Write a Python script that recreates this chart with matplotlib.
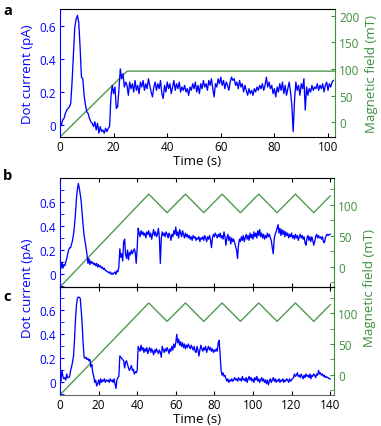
"""Dot current vs. time under a magnetic field sweep (panels a, b, c)."""

import matplotlib

matplotlib.use("Agg")
import matplotlib.pyplot as plt
import numpy as np
from matplotlib.ticker import MultipleLocator

plt.rcParams["font.family"] = ["Open Sans", "DejaVu Sans"]

# ------------------------------------------------------------------ #
# Data (read off the figure), current sampled every 0.5 s
# ------------------------------------------------------------------ #

DT = 0.5

# panel a: current (pA), t = 0 .. 102 s
current_a = [
    0.02, 0.00, 0.03, 0.04, 0.07, 0.09, 0.10, 0.11, 0.13, 0.26,   # 0-4.5
    0.42, 0.59, 0.64, 0.665, 0.62, 0.47, 0.29, 0.28, 0.18, 0.12,  # 5-9.5
    0.08, 0.07, 0.04, 0.02, 0.01, -0.01, 0.02, -0.03, 0.01, -0.05,  # 10-14.5
    -0.01, -0.04, -0.03, -0.05, -0.02, -0.04, -0.02, -0.01, 0.17, 0.24,  # 15-19.5
    0.19, 0.23, 0.10, 0.11, 0.22, 0.34, 0.28, 0.31, 0.23, 0.26,  # 20-24.5
    0.24, 0.18, 0.26, 0.22, 0.25, 0.20, 0.27, 0.21, 0.24, 0.19,  # 25-29.5
    0.26, 0.23, 0.27, 0.21, 0.25, 0.22, 0.28, 0.24, 0.20, 0.17,  # 30-34.5
    0.23, 0.26, 0.21, 0.25, 0.22, 0.27, 0.19, 0.16, 0.24, 0.20,  # 35-39.5
    0.26, 0.22, 0.25, 0.19, 0.23, 0.27, 0.21, 0.25, 0.22, 0.26,  # 40-44.5
    0.20, 0.23, 0.21, 0.24, 0.20, 0.22, 0.18, 0.23, 0.21, 0.25,  # 45-49.5
    0.22, 0.26, 0.20, 0.24, 0.19, 0.25, 0.22, 0.27, 0.23, 0.25,  # 50-54.5
    0.21, 0.27, 0.24, 0.28, 0.22, 0.17, 0.25, 0.23, 0.28, 0.25,  # 55-59.5
    0.29, 0.24, 0.27, 0.22, 0.26, 0.24, 0.21, 0.26, 0.29, 0.27,  # 60-64.5
    0.28, 0.24, 0.26, 0.22, 0.27, 0.23, 0.25, 0.20, 0.24, 0.21,  # 65-69.5
    0.18, 0.22, 0.19, 0.21, 0.18, 0.22, 0.20, 0.23, 0.21, 0.24,  # 70-74.5
    0.22, 0.25, 0.21, 0.24, 0.29, 0.23, 0.26, 0.22, 0.24, 0.19,  # 75-79.5
    0.22, 0.17, 0.23, 0.20, 0.25, 0.21, 0.26, 0.19, 0.24, 0.18,  # 80-84.5
    0.22, 0.26, 0.20, 0.12, -0.04, 0.15, 0.26, 0.21, 0.24, 0.18,  # 85-89.5
    0.25, 0.22, 0.28, 0.09, 0.23, 0.18, 0.22, 0.20, 0.24, 0.21,  # 90-94.5
    0.23, 0.22, 0.25, 0.21, 0.24, 0.22, 0.25, 0.20, 0.24, 0.26,  # 95-99.5
    0.21, 0.25, 0.23, 0.26, 0.27,                                # 100-102
]

# panel b: current (pA), t = 0 .. 140 s
current_b = [
    0.10, 0.05, 0.10, 0.05, 0.08, 0.07, 0.10, 0.13, 0.17, 0.20,  # 0
    0.22, 0.22, 0.25, 0.28, 0.33, 0.40, 0.50, 0.62, 0.70, 0.75,  # 5
    0.71, 0.66, 0.60, 0.50, 0.40, 0.32, 0.27, 0.22, 0.16, 0.09,  # 10
    0.13, 0.08, 0.11, 0.09, 0.10, 0.08, 0.09, 0.07, 0.09, 0.06,  # 15
    0.08, 0.06, 0.07, 0.05, 0.06, 0.04, 0.05, 0.03, 0.03, 0.02,  # 20
    0.02, 0.01, 0.02, 0.00, 0.01, 0.00, 0.01, 0.02, 0.00, 0.03,  # 25
    0.02, 0.06, 0.21, 0.14, 0.17, 0.11, 0.27, 0.29, 0.16, 0.13,  # 30
    0.20, 0.12, 0.18, 0.16, 0.20, 0.17, 0.19, 0.21, 0.18, 0.09,  # 35
    0.22, 0.38, 0.34, 0.31, 0.36, 0.33, 0.35, 0.32, 0.34, 0.30,  # 40
    0.35, 0.33, 0.36, 0.31, 0.34, 0.29, 0.33, 0.37, 0.32, 0.35,  # 45
    0.31, 0.33, 0.38, 0.30, 0.09, 0.30, 0.35, 0.32, 0.34, 0.31,  # 50
    0.35, 0.33, 0.30, 0.34, 0.32, 0.28, 0.33, 0.31, 0.36, 0.33,  # 55
    0.39, 0.32, 0.35, 0.30, 0.37, 0.34, 0.31, 0.36, 0.33, 0.30,  # 60
    0.34, 0.31, 0.33, 0.30, 0.32, 0.29, 0.31, 0.28, 0.32, 0.30,  # 65
    0.31, 0.28, 0.30, 0.29, 0.31, 0.27, 0.30, 0.29, 0.31, 0.28,  # 70
    0.32, 0.30, 0.27, 0.31, 0.29, 0.32, 0.28, 0.22, 0.30, 0.33,  # 75
    0.31, 0.34, 0.32, 0.30, 0.33, 0.31, 0.34, 0.30, 0.32, 0.29,  # 80
    0.35, 0.31, 0.24, 0.30, 0.33, 0.28, 0.31, 0.25, 0.30, 0.27,  # 85
    0.29, 0.26, 0.23, 0.20, 0.13, 0.24, 0.29, 0.27, 0.31, 0.28,  # 90
    0.32, 0.27, 0.30, 0.33, 0.29, 0.32, 0.28, 0.34, 0.30, 0.33,  # 95
    0.29, 0.35, 0.31, 0.34, 0.30, 0.36, 0.32, 0.37, 0.31, 0.34,  # 100
    0.30, 0.33, 0.29, 0.32, 0.30, 0.34, 0.31, 0.33, 0.30, 0.28,  # 105
    0.22, 0.17, 0.29, 0.33, 0.35, 0.38, 0.41, 0.34, 0.38, 0.32,  # 110
    0.37, 0.33, 0.36, 0.31, 0.35, 0.32, 0.34, 0.30, 0.33, 0.31,  # 115
    0.34, 0.30, 0.32, 0.29, 0.33, 0.30, 0.32, 0.28, 0.31, 0.33,  # 120
    0.30, 0.32, 0.29, 0.31, 0.26, 0.24, 0.30, 0.32, 0.28, 0.31,  # 125
    0.27, 0.31, 0.28, 0.24, 0.27, 0.31, 0.33, 0.30, 0.32, 0.30,  # 130
    0.31, 0.29, 0.31, 0.27, 0.26, 0.30, 0.32, 0.33, 0.32, 0.33,  # 135
    0.33,                                                        # 140
]

# panel c: current (pA), t = 0 .. 140 s
current_c = [
    0.05, 0.01, 0.10, 0.05, 0.03, 0.04, 0.02, 0.07, 0.04, 0.04,  # 0
    0.05, 0.10, 0.13, 0.17, 0.22, 0.35, 0.52, 0.64, 0.70, 0.71,  # 5
    0.71, 0.70, 0.60, 0.48, 0.32, 0.21, 0.20, 0.21, 0.19, 0.20,  # 10
    0.18, 0.19, 0.13, 0.15, 0.08, 0.05, 0.00, 0.02, -0.03, -0.01,  # 15
    0.02, -0.02, 0.03, 0.00, 0.02, 0.01, 0.03, 0.00, 0.02, 0.01,  # 20
    0.02, 0.00, 0.03, 0.01, 0.02, 0.00, 0.03, -0.01, -0.05, 0.02,  # 25
    0.04, 0.05, 0.22, 0.21, 0.20, 0.19, 0.18, 0.12, 0.17, 0.18,  # 30
    0.15, 0.12, 0.10, 0.12, 0.14, 0.10, 0.11, 0.07, 0.09, 0.08,  # 35
    0.10, 0.30, 0.28, 0.26, 0.31, 0.27, 0.29, 0.25, 0.28, 0.26,  # 40
    0.29, 0.24, 0.27, 0.29, 0.25, 0.28, 0.26, 0.23, 0.27, 0.25,  # 45
    0.28, 0.26, 0.24, 0.27, 0.25, 0.21, 0.30, 0.27, 0.25, 0.28,  # 50
    0.26, 0.29, 0.27, 0.24, 0.28, 0.26, 0.30, 0.27, 0.32, 0.29,  # 55
    0.33, 0.40, 0.33, 0.36, 0.31, 0.34, 0.30, 0.33, 0.29, 0.32,  # 60
    0.28, 0.31, 0.29, 0.32, 0.30, 0.28, 0.31, 0.29, 0.27, 0.30,  # 65
    0.26, 0.25, 0.30, 0.27, 0.22, 0.27, 0.31, 0.28, 0.26, 0.29,  # 70
    0.27, 0.30, 0.25, 0.28, 0.30, 0.27, 0.29, 0.26, 0.28, 0.25,  # 75
    0.27, 0.26, 0.28, 0.26, 0.33, 0.35, 0.23, 0.10, 0.06, 0.08,  # 80
    0.05, 0.06, 0.03, 0.01, 0.03, 0.00, 0.02, 0.01, 0.03, 0.01,  # 85
    0.02, 0.04, 0.02, 0.03, 0.01, 0.04, 0.02, 0.03, 0.01, 0.05,  # 90
    0.02, 0.03, 0.01, 0.04, 0.00, 0.03, 0.05, 0.02, 0.04, 0.01,  # 95
    0.03, 0.00, 0.04, 0.02, 0.05, 0.01, 0.03, 0.00, 0.02, 0.04,  # 100
    0.01, 0.03, 0.00, 0.02, -0.01, 0.02, -0.02, 0.01, 0.03, 0.00,  # 105
    0.02, 0.04, 0.01, 0.03, 0.00, 0.02, 0.01, 0.03, 0.00, 0.02,  # 110
    0.01, 0.03, 0.00, 0.02, 0.01, 0.03, 0.02, 0.00, 0.03, 0.01,  # 115
    0.02, 0.03, 0.04, 0.07, 0.05, 0.06, 0.08, 0.05, 0.06, 0.04,  # 120
    0.07, 0.05, 0.03, 0.06, 0.04, 0.07, 0.05, 0.06, 0.04, 0.07,  # 125
    0.03, 0.06, 0.05, 0.07, 0.06, 0.04, 0.07, 0.06, 0.10, 0.07,  # 130
    0.08, 0.06, 0.07, 0.05, 0.06, 0.04, 0.05, 0.04, 0.04, 0.03,  # 135
    0.03,                                                        # 140
]

# magnetic field (mT): corner points of the sweep
field_a_t = [0, 25, 102.6]
field_a_b = [-28, 96, 96]

field_bc_t = [0, 46, 55.5, 65, 74.5, 84, 93.5, 103, 112.5, 122, 131.5, 140]
field_bc_b = [-33, 117, 87, 117, 87, 117, 87, 117, 87, 117, 87, 114]

BLUE = "#0000ff"
GREEN = "#3f8f3f"
GREEN_LINE = "#4f9a4f"

W, H = 381, 427


def px_rect(left, top, right, bottom):
    """Axes rectangle from pixel edges."""
    return [left / W, 1 - bottom / H, (right - left) / W, (bottom - top) / H]


def make_panel(fig, rect, t_cur, cur, t_fld, fld, xlim, ylim_l, ylim_r,
               minor=False, top_ticks=False, xlabels=True, bottom_col="black"):
    ax = fig.add_axes(rect)
    tw = ax.twinx()
    ax.set_zorder(tw.get_zorder() + 1)
    ax.patch.set_visible(False)

    tw.plot(t_fld, fld, color=GREEN_LINE, lw=1.0)
    ax.plot(t_cur, cur, color=BLUE, lw=0.95)

    ax.set_xlim(*xlim)
    ax.set_ylim(*ylim_l)
    tw.set_ylim(*ylim_r)

    ax.spines["left"].set_color(BLUE)
    ax.spines["right"].set_visible(False)
    ax.spines["bottom"].set_color(bottom_col)
    tw.spines["left"].set_visible(False)
    tw.spines["top"].set_visible(False)
    tw.spines["bottom"].set_visible(False)
    tw.spines["right"].set_color(GREEN)

    ax.xaxis.set_major_locator(MultipleLocator(20))
    ax.yaxis.set_major_locator(MultipleLocator(0.2))
    tw.yaxis.set_major_locator(MultipleLocator(50))
    if minor:
        ax.yaxis.set_minor_locator(MultipleLocator(0.1))
        tw.yaxis.set_minor_locator(MultipleLocator(25))

    ax.tick_params(axis="x", which="both", direction="in", length=3,
                   top=top_ticks, labelbottom=xlabels, labelsize=8.5, pad=2)
    ax.tick_params(axis="y", which="both", direction="in", length=3,
                   colors=BLUE, labelsize=8.5, pad=3)
    tw.tick_params(axis="y", which="both", direction="in", length=3,
                   colors=GREEN, labelsize=8.5, pad=3)

    ax.yaxis.set_major_formatter(
        matplotlib.ticker.FuncFormatter(lambda v, p: "0" if abs(v) < 1e-9 else f"{v:g}"))
    return ax, tw


fig = plt.figure(figsize=(W / 100, H / 100), dpi=100)

t_a = np.arange(len(current_a)) * DT
t_b = np.arange(len(current_b)) * DT
t_c = np.arange(len(current_c)) * DT

ax_a, tw_a = make_panel(fig, px_rect(60, 10, 335, 138), t_a, current_a,
                        field_a_t, field_a_b, (0, 102.6), (-0.073, 0.703), (-28, 213))
ax_a.set_xlabel("Time (s)", fontsize=9.5, labelpad=1)
ax_a.set_ylabel("Dot current (pA)", color=BLUE, fontsize=9.5, labelpad=4)
tw_a.set_ylabel("Magnetic field (mT)", color=GREEN, fontsize=9.5, labelpad=4)

ax_b, tw_b = make_panel(fig, px_rect(60, 179, 334, 288), t_b, current_b,
                        field_bc_t, field_bc_b, (0, 142), (-0.105, 0.795), (-33, 143),
                        minor=True, top_ticks=True, xlabels=False)

ax_c, tw_c = make_panel(fig, px_rect(60, 288, 334, 396), t_c, current_c,
                        field_bc_t, field_bc_b, (0, 142), (-0.105, 0.795), (-33, 143),
                        minor=True, top_ticks=True, bottom_col="#666666")
ax_c.set_xlabel("Time (s)", fontsize=9.5, labelpad=1)

# shared labels for b and c
fig.text(28 / W, 1 - 288 / H, "Dot current (pA)", color=BLUE, fontsize=9.5,
         rotation=90, ha="center", va="center")
fig.text(370 / W, 1 - 288 / H, "Magnetic field (mT)", color=GREEN, fontsize=9.5,
         rotation=90, ha="center", va="center")

# panel letters
for letter, ypx in [("a", 11), ("b", 176), ("c", 297)]:
    fig.text(3 / W, 1 - ypx / H, letter, fontsize=10.5, fontweight="bold",
             ha="left", va="center")

fig.savefig("out.png", dpi=100)
